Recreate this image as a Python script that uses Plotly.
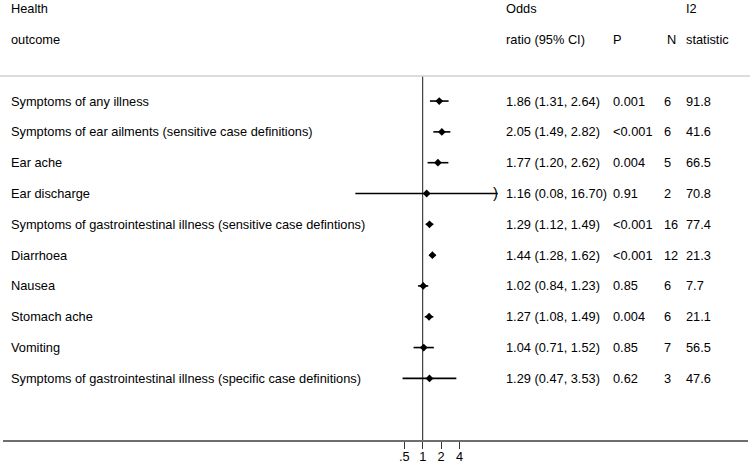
import numpy as np
import plotly.graph_objects as go

# Meta-analysis results per health outcome
outcomes = [
    'Symptoms of any illness',
    'Symptoms of ear ailments (sensitive case definitions)',
    'Ear ache',
    'Ear discharge',
    'Symptoms of gastrointestinal illness (sensitive case defintions)',
    'Diarrhoea',
    'Nausea',
    'Stomach ache',
    'Vomiting',
    'Symptoms of gastrointestinal illness (specific case definitions)',
]
odds_ratio = [1.86, 2.05, 1.77, 1.16, 1.29, 1.44, 1.02, 1.27, 1.04, 1.29]
ci_low = [1.31, 1.49, 1.20, 0.08, 1.12, 1.28, 0.84, 1.08, 0.71, 0.47]
ci_high = [2.64, 2.82, 2.62, 16.70, 1.49, 1.62, 1.23, 1.49, 1.52, 3.53]
p_values = ['0.001', '<0.001', '0.004', '0.91', '<0.001', '<0.001', '0.85', '0.004', '0.85', '0.62']
n_studies = [6, 6, 5, 2, 16, 12, 6, 6, 7, 3]
i2_stat = ['91.8', '41.6', '66.5', '70.8', '77.4', '21.3', '7.7', '21.1', '56.5', '47.6']

tick_vals = [0.5, 1, 2, 4]
tick_text = ['.5', '1', '2', '4']

# arrow marks CI that runs off the displayed range
clipped = [3]

FONT = 'Liberation Sans, Arial, sans-serif'
FSIZE = 12.8
W, H = 750, 463
ML, MR = 3, 2


def px_to_paper(px):
    """Convert a pixel column in the figure to paper coordinates (minus annotation padding)"""
    return (px - 2 - ML) / (W - ML - MR)


rows = list(range(1, len(outcomes) + 1))
y_top = 0.19  # top rule / start of the null line
y_bottom = 12.0

fig = go.Figure()

# Null line at OR = 1
fig.add_trace(go.Scatter(x=[1, 1], y=[y_top, y_bottom], mode='lines',
                         line=dict(color='#1a1a1a', width=1), hoverinfo='skip'))

# Confidence intervals
for i, row in enumerate(rows):
    fig.add_trace(go.Scatter(x=[ci_low[i], ci_high[i]], y=[row, row], mode='lines',
                             line=dict(color='black', width=1.6), hoverinfo='skip'))

# Point estimates
fig.add_trace(go.Scatter(x=odds_ratio, y=rows, mode='markers',
                         marker=dict(symbol='diamond', size=6, color='black'),
                         hoverinfo='skip'))

annotations = []
for i in clipped:
    annotations.append(dict(x=np.log10(ci_high[i]), y=rows[i], xref='x', yref='y',
                            text=')', showarrow=False, xanchor='right', yanchor='middle',
                            xshift=2, yshift=1,
                            font=dict(family=FONT, size=15, color='black')))

# Text columns (pixel columns in the page)
col_x = {'label': 11, 'or': 506, 'p': 613, 'n': 664, 'i2': 686}
headers = [
    ('label', 'Health', 'outcome'),
    ('or', 'Odds', 'ratio (95% CI)'),
    ('p', '', 'P'),
    ('n', '', 'N'),
    ('i2', 'I2', 'statistic'),
]


def add_text(px, y, txt):
    annotations.append(dict(x=px_to_paper(px), y=y, xref='paper', yref='y', text=txt,
                            showarrow=False, xanchor='left', yanchor='middle',
                            font=dict(family=FONT, size=FSIZE, color='black')))


for key, line1, line2 in headers:
    hx = col_x[key] + (3 if key == 'n' else 0)
    if line1:
        add_text(hx, -2, line1)
    add_text(hx, -1, line2)

for i, row in enumerate(rows):
    add_text(col_x['label'], row, outcomes[i])
    add_text(col_x['or'], row, f'{odds_ratio[i]:.2f} ({ci_low[i]:.2f}, {ci_high[i]:.2f})')
    add_text(col_x['p'], row, p_values[i])
    add_text(col_x['n'], row, str(n_studies[i]))
    add_text(col_x['i2'], row, i2_stat[i])

# 61.4 px per decade, null line at x=422.7 px
px_per_decade = 61.4
null_px = 422.7
x_range = [-(null_px - ML) / px_per_decade, (W - MR - null_px) / px_per_decade]

fig.update_layout(
    width=W, height=H,
    margin=dict(l=ML, r=MR, t=0, b=23, autoexpand=False),
    plot_bgcolor='white', paper_bgcolor='white',
    showlegend=False,
    font=dict(family=FONT, size=FSIZE, color='black'),
    annotations=annotations,
    shapes=[dict(type='line', xref='paper', yref='y', x0=-0.01, x1=1.01, y0=y_top, y1=y_top,
                 line=dict(color='#d0d0d0', width=1.5))],
    xaxis=dict(type='log', range=x_range, tickvals=tick_vals, ticktext=tick_text,
               showgrid=False, zeroline=False, showline=True, linecolor='#6e6e6e', linewidth=2,
               ticks='outside', ticklen=7, tickwidth=1, tickcolor='#333', automargin=False,
               ticklabelstandoff=-3,
               tickfont=dict(family=FONT, size=FSIZE, color='black')),
    yaxis=dict(range=[y_bottom, -2.28], showgrid=False, zeroline=False, showline=False,
               showticklabels=False, ticks='', automargin=False),
)

# drop the browser's default 8px body margin so the figure sits at the window corner
fig.write_html('out.html', config={'displayModeBar': False},
               post_script="document.body.style.margin='0';")
